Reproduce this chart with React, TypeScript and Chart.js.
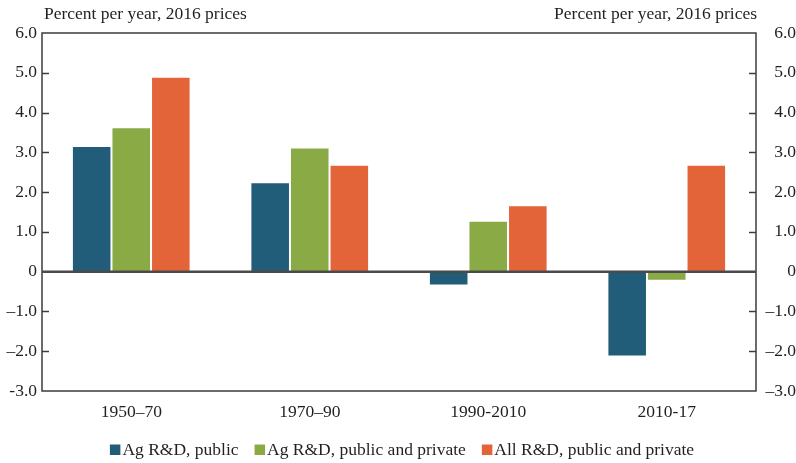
import React, { useEffect, useRef } from "react";
import { Chart, registerables } from "chart.js";

Chart.register(...registerables);

const categories = ["1950–70", "1970–90", "1990-2010", "2010-17"];
const agPublic = [3.16, 2.25, -0.35, -2.13];
const agPublicPrivate = [3.63, 3.12, 1.28, -0.23];
const allRD = [4.9, 2.69, 1.67, 2.69];
const seriesNames = ["Ag R&D, public", "Ag R&D, public and private", "All R&D, public and private"];
const seriesColors = ["#215d78", "#8aaa46", "#e4643a"];
const yTickValues = [-3, -2, -1, 0, 1, 2, 3, 4, 5, 6];
const axisTitle = "Percent per year, 2016 prices";

const FONT = '"Liberation Serif", "DejaVu Serif", serif';
const TEXT = "#231f20";
const FS = 17.5;

function fmtTick(v: number, left: boolean): string {
  if (v === 0) return "0";
  if (v < 0) {
    const dash = left && v === -3 ? "-" : "\u2013";
    return dash + Math.abs(v).toFixed(1);
  }
  return v.toFixed(1);
}

const framePlugin = {
  id: "frame",
  afterDraw(chart: any) {
    const { ctx, chartArea } = chart;
    const { left, right, top, bottom } = chartArea;
    const y = chart.scales.y;
    ctx.save();
    ctx.strokeStyle = "#3d3d3d";
    ctx.lineWidth = 1.5;
    ctx.strokeRect(left, top, right - left, bottom - top);
    yTickValues.forEach((v) => {
      if (v === 6 || v === -3 || v === 0) return;
      const py = Math.round(y.getPixelForValue(v)) + 0.5;
      ctx.beginPath();
      ctx.moveTo(left, py);
      ctx.lineTo(left + 7, py);
      ctx.moveTo(right - 7, py);
      ctx.lineTo(right, py);
      ctx.stroke();
    });
    const zy = y.getPixelForValue(0);
    ctx.strokeStyle = "#4a4a4a";
    ctx.lineWidth = 2.5;
    ctx.beginPath();
    ctx.moveTo(left, zy);
    ctx.lineTo(right, zy);
    ctx.stroke();

    ctx.fillStyle = TEXT;
    ctx.font = `${FS}px ${FONT}`;
    ctx.textBaseline = "alphabetic";
    ctx.textAlign = "left";
    ctx.fillText(axisTitle, left + 2, 19);
    ctx.textAlign = "right";
    ctx.fillText(axisTitle, right + 1, 19);

    ctx.font = `${FS}px ${FONT}`;
    const box = 10.5;
    const gapBoxText = 2;
    const gapItems = 16;
    const widths = seriesNames.map((n) => ctx.measureText(n).width);
    const total =
      widths.reduce((a, b) => a + b, 0) +
      seriesNames.length * (box + gapBoxText) +
      (seriesNames.length - 1) * gapItems;
    let x = (chart.width - total) / 2 + 4;
    const baseline = 455;
    ctx.textAlign = "left";
    seriesNames.forEach((n, i) => {
      ctx.fillStyle = seriesColors[i];
      ctx.fillRect(x, baseline - box, box, box);
      x += box + gapBoxText;
      ctx.fillStyle = TEXT;
      ctx.fillText(n, x, baseline);
      x += widths[i] + gapItems;
    });
    ctx.restore();
  },
};

export default function App() {
  const ref = useRef<HTMLCanvasElement | null>(null);

  useEffect(() => {
    document.body.style.margin = "0";
    if (!ref.current) return;
    const datasets = [agPublic, agPublicPrivate, allRD].map((d, i) => ({
      label: seriesNames[i],
      data: d,
      backgroundColor: seriesColors[i],
      borderColor: "rgba(255,255,255,0.35)",
      borderWidth: 1,
      categoryPercentage: 0.665,
      barPercentage: 1.0,
    }));
    const chart = new Chart(ref.current, {
      type: "bar",
      data: { labels: categories, datasets },
      options: {
        animation: false,
        responsive: false,
        maintainAspectRatio: false,
        layout: { padding: { top: 33, left: 0, right: 0, bottom: 0 } },
        plugins: { legend: { display: false }, tooltip: { enabled: false } },
        scales: {
          x: {
            grid: { display: false, drawTicks: false },
            border: { display: false },
            ticks: {
              color: TEXT,
              font: { family: FONT, size: FS },
              padding: 11,
              maxRotation: 0,
            },
            afterFit: (s: any) => {
              s.height = 72;
            },
          },
          y: {
            position: "left",
            min: -3,
            max: 6,
            grid: { display: false, drawTicks: false },
            border: { display: false },
            afterBuildTicks: (s: any) => {
              s.ticks = yTickValues.map((v) => ({ value: v }));
            },
            ticks: {
              color: TEXT,
              font: { family: FONT, size: FS },
              padding: 5,
              callback: (v: any) => fmtTick(Number(v), true),
            },
            afterFit: (s: any) => {
              s.width = 42;
            },
          },
          y2: {
            position: "right",
            min: -3,
            max: 6,
            grid: { display: false, drawTicks: false },
            border: { display: false },
            afterBuildTicks: (s: any) => {
              s.ticks = yTickValues.map((v) => ({ value: v }));
            },
            ticks: {
              color: TEXT,
              font: { family: FONT, size: FS },
              padding: 6,
              crossAlign: "far",
              callback: (v: any) => fmtTick(Number(v), false),
            },
            afterFit: (s: any) => {
              s.width = 40;
            },
          },
        },
      },
      plugins: [framePlugin],
    });
    return () => chart.destroy();
  }, []);

  return (
    <div style={{ width: 796, height: 463 }}>
      <canvas ref={ref} width={796} height={463} style={{ display: "block" }} />
    </div>
  );
}
